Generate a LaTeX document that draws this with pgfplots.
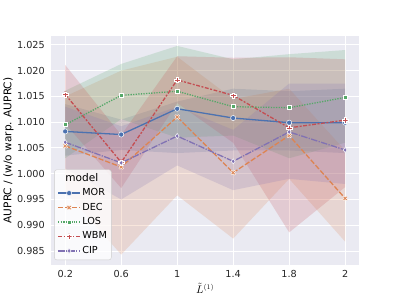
\documentclass[border=0pt]{standalone}
\usepackage{fontspec}
\setmainfont{DejaVu Sans}
\usepackage{pgfplots}
\pgfplotsset{compat=1.18}
\usepgfplotslibrary{fillbetween}
\definecolor{bgcol}{HTML}{EAEAF2}
\definecolor{cMOR}{HTML}{4C72B0}
\definecolor{cDEC}{HTML}{DD8452}
\definecolor{cLOS}{HTML}{55A868}
\definecolor{cWBM}{HTML}{C44E52}
\definecolor{cCIP}{HTML}{8172B3}
\definecolor{legedge}{HTML}{CCCCCC}
\pgfdeclareplotmark{Pf}{%
 \pgfpathmoveto{\pgfpoint{0.4\pgfplotmarksize}{\pgfplotmarksize}}%
 \pgfpathlineto{\pgfpoint{0.4\pgfplotmarksize}{0.4\pgfplotmarksize}}%
 \pgfpathlineto{\pgfpoint{\pgfplotmarksize}{0.4\pgfplotmarksize}}%
 \pgfpathlineto{\pgfpoint{\pgfplotmarksize}{-0.4\pgfplotmarksize}}%
 \pgfpathlineto{\pgfpoint{0.4\pgfplotmarksize}{-0.4\pgfplotmarksize}}%
 \pgfpathlineto{\pgfpoint{0.4\pgfplotmarksize}{-\pgfplotmarksize}}%
 \pgfpathlineto{\pgfpoint{-0.4\pgfplotmarksize}{-\pgfplotmarksize}}%
 \pgfpathlineto{\pgfpoint{-0.4\pgfplotmarksize}{-0.4\pgfplotmarksize}}%
 \pgfpathlineto{\pgfpoint{-\pgfplotmarksize}{-0.4\pgfplotmarksize}}%
 \pgfpathlineto{\pgfpoint{-\pgfplotmarksize}{0.4\pgfplotmarksize}}%
 \pgfpathlineto{\pgfpoint{-0.4\pgfplotmarksize}{0.4\pgfplotmarksize}}%
 \pgfpathlineto{\pgfpoint{-0.4\pgfplotmarksize}{\pgfplotmarksize}}%
 \pgfpathclose\pgfusepathqfillstroke}
\pgfdeclareplotmark{Xf}{%
 \pgftransformrotate{45}%
 \pgfpathmoveto{\pgfpoint{0.35\pgfplotmarksize}{1.2\pgfplotmarksize}}%
 \pgfpathlineto{\pgfpoint{0.35\pgfplotmarksize}{0.35\pgfplotmarksize}}%
 \pgfpathlineto{\pgfpoint{1.2\pgfplotmarksize}{0.35\pgfplotmarksize}}%
 \pgfpathlineto{\pgfpoint{1.2\pgfplotmarksize}{-0.35\pgfplotmarksize}}%
 \pgfpathlineto{\pgfpoint{0.35\pgfplotmarksize}{-0.35\pgfplotmarksize}}%
 \pgfpathlineto{\pgfpoint{0.35\pgfplotmarksize}{-1.2\pgfplotmarksize}}%
 \pgfpathlineto{\pgfpoint{-0.35\pgfplotmarksize}{-1.2\pgfplotmarksize}}%
 \pgfpathlineto{\pgfpoint{-0.35\pgfplotmarksize}{-0.35\pgfplotmarksize}}%
 \pgfpathlineto{\pgfpoint{-1.2\pgfplotmarksize}{-0.35\pgfplotmarksize}}%
 \pgfpathlineto{\pgfpoint{-1.2\pgfplotmarksize}{0.35\pgfplotmarksize}}%
 \pgfpathlineto{\pgfpoint{-0.35\pgfplotmarksize}{0.35\pgfplotmarksize}}%
 \pgfpathlineto{\pgfpoint{-0.35\pgfplotmarksize}{1.2\pgfplotmarksize}}%
 \pgfpathclose\pgfusepathqfillstroke}
\begin{document}
\begin{tikzpicture}
\path (-50pt,-33pt) rectangle (349pt,266pt);
\begin{axis}[
  scale only axis, width=309pt, height=230pt,
  xmin=-0.25, xmax=5.25, ymin=0.98226, ymax=1.02675,
  xtick={0,1,2,3,4,5}, xticklabels={0.2,0.6,1,1.4,1.8,2},
  ytick={0.985,0.990,0.995,1.000,1.005,1.010,1.015,1.020,1.025},
  yticklabel style={/pgf/number format/fixed, /pgf/number format/fixed zerofill, /pgf/number format/precision=3, xshift=-3pt},
  /pgf/number format/assume math mode=true,
  tick label style={font=\fontsize{9.7}{11}\selectfont, text=black!85},
  xticklabel style={yshift=-2pt},
  axis background/.style={fill=bgcol},
  grid=major, major grid style={white, line width=0.88pt},
  axis line style={draw=none}, major tick length=0pt,
  xlabel={$\tilde{L}^{(1)}$},
  ylabel={AUPRC / (w/o warp. AUPRC)},
  label style={font=\fontsize{10.6}{12}\selectfont},
  xlabel style={at={(axis description cs:0.5,-0.1)}, anchor=center},
  ylabel style={at={(axis description cs:-0.139,0.5)}, anchor=center},
  legend style={at={(0.0097,0.0217)}, anchor=south west, fill=white, fill opacity=0.8, text opacity=1, draw opacity=1,
    draw=legedge, rounded corners=2.5pt, font=\fontsize{9.7}{11}\selectfont,
    nodes={inner sep=1.5pt, text height=7pt, text depth=2pt}, row sep=2.5pt, inner xsep=3pt, inner ysep=3pt},
  legend cell align=left,
  legend image code/.code={\draw[mark repeat=2,mark phase=2] plot coordinates {(0cm,0cm)(0.39cm,0cm)(0.78cm,0cm)};},
]
% bands
\addplot[name path=MORu, draw=none, forget plot] coordinates {(0,1.0135)(1,1.0105)(2,1.0140)(3,1.0165)(4,1.0160)(5,1.0165)};
\addplot[name path=MORl, draw=none, forget plot] coordinates {(0,1.0035)(1,1.0046)(2,1.0040)(3,1.0045)(4,1.0045)(5,1.0040)};
\addplot[fill=cMOR, fill opacity=0.2, draw=none, forget plot] fill between[of=MORu and MORl];
\addplot[name path=DECu, draw=none, forget plot] coordinates {(0,1.0150)(1,1.0200)(2,1.0227)(3,1.0145)(4,1.0165)(5,1.0045)};
\addplot[name path=DECl, draw=none, forget plot] coordinates {(0,0.9965)(1,0.9843)(2,0.9958)(3,0.9874)(4,0.9990)(5,0.9868)};
\addplot[fill=cDEC, fill opacity=0.2, draw=none, forget plot] fill between[of=DECu and DECl];
\addplot[name path=LOSu, draw=none, forget plot] coordinates {(0,1.0161)(1,1.0213)(2,1.0248)(3,1.0222)(4,1.0232)(5,1.0240)};
\addplot[name path=LOSl, draw=none, forget plot] coordinates {(0,1.0030)(1,1.0106)(2,1.0070)(3,1.0074)(4,1.0030)(5,1.0060)};
\addplot[fill=cLOS, fill opacity=0.2, draw=none, forget plot] fill between[of=LOSu and LOSl];
\addplot[name path=WBMu, draw=none, forget plot] coordinates {(0,1.0211)(1,1.0075)(2,1.0228)(3,1.0225)(4,1.0226)(5,1.0222)};
\addplot[name path=WBMl, draw=none, forget plot] coordinates {(0,1.0097)(1,0.9972)(2,1.0137)(3,1.0060)(4,0.9886)(5,0.9974)};
\addplot[fill=cWBM, fill opacity=0.2, draw=none, forget plot] fill between[of=WBMu and WBMl];
\addplot[name path=CIPu, draw=none, forget plot] coordinates {(0,1.0130)(1,1.0092)(2,1.0130)(3,1.0085)(4,1.0175)(5,1.0175)};
\addplot[name path=CIPl, draw=none, forget plot] coordinates {(0,1.0010)(1,0.9950)(2,1.0016)(3,0.9968)(4,0.9990)(5,0.9980)};
\addplot[fill=cCIP, fill opacity=0.2, draw=none, forget plot] fill between[of=CIPu and CIPl];
\addlegendimage{empty legend}
\addlegendentry{\hspace*{-17pt}\fontsize{10.6}{12}\selectfont model}
% lines
\addplot[color=cMOR, opacity=1, line width=1.3pt, solid, mark=*, mark size=2.6pt, mark options={solid, fill=cMOR, fill opacity=1, draw=white, line width=0.5pt}]
 coordinates {(0,1.0082)(1,1.0076)(2,1.0126)(3,1.0108)(4,1.0099)(5,1.0099)};
\addlegendentry{MOR}
\addplot[color=cDEC, opacity=1, line width=1.3pt, dash pattern=on 5.2pt off 1.95pt, mark=Xf, mark size=2.2pt, mark options={solid, fill=cDEC, fill opacity=1, draw=white, line width=0.35pt}]
 coordinates {(0,1.0054)(1,1.0013)(2,1.0110)(3,1.0002)(4,1.0074)(5,0.9952)};
\addlegendentry{DEC}
\addplot[color=cLOS, opacity=1, line width=1.3pt, dash pattern=on 1.3pt off 1.3pt, mark=square*, mark size=2pt, mark options={solid, fill=cLOS, fill opacity=1, draw=white, line width=0.5pt}]
 coordinates {(0,1.0095)(1,1.0152)(2,1.0160)(3,1.0130)(4,1.0128)(5,1.0148)};
\addlegendentry{LOS}
\addplot[color=cWBM, opacity=1, line width=1.3pt, dash pattern=on 3.9pt off 1.6pt on 1.95pt off 1.6pt, mark=Pf, mark size=2.6pt, mark options={solid, fill=cWBM, fill opacity=1, draw=white, line width=0.35pt}]
 coordinates {(0,1.0154)(1,1.0022)(2,1.0182)(3,1.0152)(4,1.0089)(5,1.0104)};
\addlegendentry{WBM}
\addplot[color=cCIP, opacity=1, line width=1.3pt, dash pattern=on 6.5pt off 1.3pt on 1.3pt off 1.3pt, mark=diamond*, mark size=2.6pt, mark options={solid, fill=cCIP, fill opacity=1, draw=white, line width=0.5pt}]
 coordinates {(0,1.0061)(1,1.0021)(2,1.0073)(3,1.0024)(4,1.0081)(5,1.0046)};
\addlegendentry{CIP}
\end{axis}
\end{tikzpicture}
\end{document}
